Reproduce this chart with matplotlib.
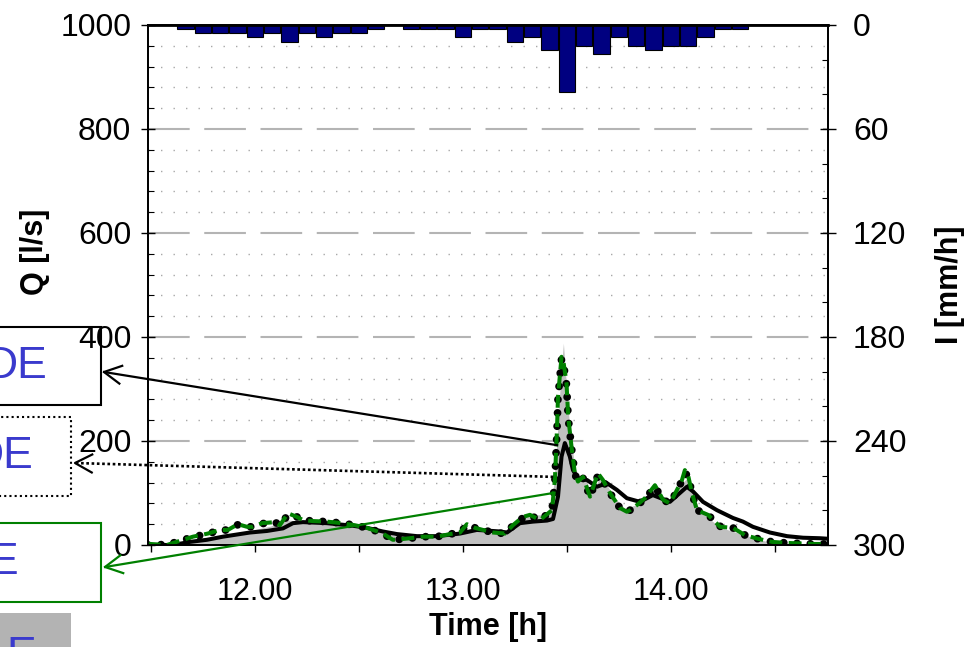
import numpy as np
import matplotlib
matplotlib.use('Agg')
import matplotlib.pyplot as plt
from matplotlib.patches import Rectangle
from matplotlib.lines import Line2D
from matplotlib.ticker import MultipleLocator, FixedLocator, FormatStrFormatter

plt.rcParams['font.family'] = ['Liberation Sans', 'DejaVu Sans']

# --- rainfall intensity, 5-minute blocks [mm/h]
rain_clock = ["11:40", "11:45", "11:50", "11:55", "12:00", "12:05", "12:10", "12:15",
              "12:20", "12:25", "12:30", "12:35", "12:40", "12:45", "12:50", "12:55",
              "13:00", "13:05", "13:10", "13:15", "13:20", "13:25", "13:30", "13:35",
              "13:40", "13:45", "13:50", "13:55", "14:00", "14:05", "14:10", "14:15",
              "14:20"]
rain_i = [2.4, 4.8, 4.8, 4.8, 7.2, 4.8, 9.6, 4.8, 7.2, 4.8, 4.8, 2.4, 0.0,
          2.4, 2.4, 2.4, 7.2, 2.4, 2.4, 9.6, 7.2, 14.4, 38.4, 12.0, 16.8,
          7.2, 12.0, 14.4, 12.0, 12.0, 7.2, 2.4, 2.4]

# --- measured discharge [l/s]
t_obs = [11.486, 11.591, 11.688, 11.784, 11.880, 11.976, 12.072, 12.159, 12.216, 12.361,
         12.481, 12.601, 12.673, 12.793, 12.889, 12.986, 13.034, 13.130, 13.202, 13.274,
         13.322, 13.394, 13.428, 13.452, 13.471, 13.483, 13.495, 13.514, 13.538, 13.562,
         13.587, 13.620, 13.659, 13.688, 13.731, 13.779, 13.837, 13.923, 13.971, 14.005,
         14.043, 14.082, 14.115, 14.139, 14.236, 14.332, 14.428, 14.514, 14.572, 14.755]
q_obs = [0, 0, 5, 12, 20, 28, 36, 48, 46, 44,
         38, 28, 18, 17, 18, 24, 30, 26, 28, 50,
         58, 58, 75, 200, 330, 388, 320, 220, 150, 125,
         128, 100, 130, 118, 90, 70, 78, 112, 88, 90,
         115, 130, 90, 65, 34, 22, 10, 2, 0, 0]

# --- simulated discharge, detailed models [l/s]
t_sim = [11.486, 11.495, 11.577, 11.639, 11.702, 11.774, 11.832, 11.870, 11.918, 11.962,
         11.990, 12.034, 12.096, 12.120, 12.159, 12.202, 12.231, 12.279, 12.346, 12.418,
         12.481, 12.538, 12.611, 12.663, 12.697, 12.745, 12.808, 12.875, 12.938, 12.986,
         13.019, 13.058, 13.096, 13.144, 13.202, 13.240, 13.288, 13.322, 13.370, 13.428,
         13.442, 13.452, 13.457, 13.474, 13.482, 13.498, 13.506, 13.522, 13.538, 13.553,
         13.577, 13.611, 13.649, 13.673, 13.707, 13.755, 13.788, 13.803, 13.837, 13.875,
         13.923, 13.962, 13.995, 14.029, 14.053, 14.067, 14.082, 14.101, 14.125, 14.178,
         14.236, 14.298, 14.356, 14.418, 14.486, 14.558, 14.620, 14.692, 14.750]
q_green = [0, 2, 0, 8, 16, 22, 29, 29, 40, 35,
           35, 42, 44, 38, 61, 54, 48, 46, 45, 42,
           38, 33, 23, 10, 11, 13, 16, 16, 21, 24,
           40, 33, 29, 24, 22, 38, 54, 58, 48, 67,
           125, 221, 285, 362, 356, 311, 247, 189, 138, 122,
           131, 93, 138, 125, 100, 71, 64, 67, 77, 90,
           115, 87, 80, 106, 125, 144, 135, 100, 67, 58,
           35, 33, 19, 12, 6, 4, 3, 2, 2]
q_dots = [0, 2, 0, 8, 15, 22, 28, 29, 39, 35,
          35, 41, 44, 38, 58, 54, 48, 46, 45, 42,
          38, 33, 23, 10, 11, 13, 16, 16, 21, 24,
          38, 33, 29, 24, 22, 37, 52, 57, 48, 66,
          123, 218, 282, 358, 352, 308, 245, 187, 137, 121,
          129, 93, 134, 124, 100, 71, 64, 67, 76, 89,
          112, 87, 80, 104, 124, 138, 133, 100, 67, 58,
          36, 33, 19, 12, 6, 4, 3, 2, 2]

# --- simulated discharge, simplified model [l/s]
t_simple = [11.486, 11.606, 11.688, 11.769, 11.846, 11.976, 12.058, 12.135, 12.183, 12.231,
            12.346, 12.471, 12.538, 12.615, 12.683, 12.779, 12.875, 12.986, 13.067, 13.178,
            13.212, 13.274, 13.337, 13.404, 13.433, 13.457, 13.474, 13.490, 13.514, 13.529,
            13.553, 13.596, 13.644, 13.692, 13.740, 13.788, 13.851, 13.913, 13.995, 14.043,
            14.077, 14.106, 14.154, 14.221, 14.298, 14.346, 14.394, 14.476, 14.558, 14.635,
            14.716, 14.755]
q_simple = [0, 0, 6, 10, 16, 24, 27, 32, 42, 44,
            42, 37, 33, 26, 21, 17, 17, 22, 29, 26,
            24, 42, 45, 47, 50, 93, 170, 196, 170, 144,
            128, 125, 112, 119, 106, 90, 83, 96, 83, 100,
            112, 103, 83, 67, 52, 45, 35, 24, 17, 14,
            13, 12]

W, H = 975, 647
fig = plt.figure(figsize=(W / 100, H / 100), dpi=100)
ax = fig.add_axes([148 / W, 1 - 545 / H, 680 / W, 520 / H])

ax.fill_between(t_obs, q_obs, 0, color='#c0c0c0', lw=0, zorder=1)
ax.plot(t_simple, q_simple, color='black', lw=2.9, zorder=3, solid_joinstyle='round')
ax.plot(t_sim, q_dots, color='black', lw=5.6, linestyle=(0, (0.01, 1.7)),
        dash_capstyle='round', zorder=4)
ax.plot(t_sim, q_green, color='#008000', lw=2.9, linestyle=(0, (3.2, 1.6)), zorder=5)

ax.set_xlim(11.486, 14.755)
ax.set_ylim(0, 1000)
ax.xaxis.set_major_locator(FixedLocator([12, 13, 14]))
ax.xaxis.set_minor_locator(MultipleLocator(0.5))
ax.xaxis.set_major_formatter(FormatStrFormatter('%.2f'))
ax.yaxis.set_major_locator(MultipleLocator(200))
ax.yaxis.set_minor_locator(MultipleLocator(40))

ax.tick_params(axis='x', which='both', direction='out', length=5, width=1,
               labelsize=22, pad=18)
ax.tick_params(axis='y', which='major', direction='inout', length=10, width=1,
               labelsize=23, pad=7)
ax.tick_params(axis='y', which='minor', direction='in', length=4, width=0.8)

ax.set_axisbelow(True)
ax.grid(axis='y', which='major', color='#b4b4b4', linestyle=(0, (20, 7)), lw=1.5)
ax.grid(axis='y', which='minor', color='#a8a8a8', linestyle=(0, (1, 8)), lw=1)

ax.set_xlabel('Time [h]', fontsize=22, fontweight='bold', labelpad=4)
ax.set_ylabel('Q [l/s]', fontsize=22, fontweight='bold')
ax.yaxis.set_label_coords(-0.144, 0.5635)

# rainfall hangs from the top on an inverted right axis
rain_t = [int(c[:2]) + int(c[3:]) / 60 for c in rain_clock]
ax2 = ax.twinx()
ax2.bar(rain_t, rain_i, width=5 / 60 * 0.94, color='#000080', edgecolor='black', lw=0.8)
ax2.set_ylim(300, 0)
ax2.yaxis.set_major_locator(MultipleLocator(60))
ax2.yaxis.set_minor_locator(MultipleLocator(20))
ax2.tick_params(axis='y', which='major', direction='inout', length=12, width=1,
                labelsize=23, pad=12)
ax2.tick_params(axis='y', which='minor', direction='in', length=4, width=0.8)
ax2.set_ylabel('I [mm/h]', fontsize=22, fontweight='bold')
ax2.yaxis.set_label_coords(1.157, 0.5)

for a in (ax, ax2):
    for s in a.spines.values():
        s.set_linewidth(1.3)
ax2.spines['top'].set_linewidth(2)


def px(x, y):
    return (x / W, 1 - y / H)


# legend boxes on the left margin
boxes = [
    # (right edge px, top px, bottom px, edge, linestyle, face)
    (101, 327, 405, 'black', '-', 'none'),
    (71, 417, 496, 'black', (0, (1, 1.5)), 'none'),
    (101, 523, 602, '#008000', '-', 'none'),
    (71, 613, 693, 'none', '-', '#b3b3b3'),
]
for right, top, bottom, ec, ls, fc in boxes:
    x0, y0 = px(-150, bottom)
    fig.add_artist(Rectangle((x0, y0), (right + 150) / W, (bottom - top) / H,
                             transform=fig.transFigure, facecolor=fc, edgecolor=ec,
                             lw=1.5, linestyle=ls, clip_on=False))

box_text = [("DE", 47, 367), ("DE", 33, 457), ("E", 18, 562), ("E", 36, 656)]
for s, xr, yc in box_text:
    fig.text(*px(xr, yc), s, ha='right', va='center', fontsize=32, color='#3a3acd')


def arrow(start, tip, color, ls):
    # start in data coordinates, tip in figure pixels (top-left origin)
    sx, sy = ax.transData.transform(start)
    tx, ty = tip[0], H - tip[1]
    u = np.array([sx - tx, sy - ty])
    u = u / np.hypot(*u)
    n = np.array([-u[1], u[0]])
    fig.add_artist(Line2D([sx / W, tx / W], [sy / H, ty / H], transform=fig.transFigure,
                          color=color, lw=1.6 if ls == '-' else 1.9, linestyle=ls))
    p1 = np.array([tx, ty]) + 17 * u + 9 * n
    p2 = np.array([tx, ty]) + 17 * u - 9 * n
    fig.add_artist(Line2D([p1[0] / W, tx / W, p2[0] / W], [p1[1] / H, ty / H, p2[1] / H],
                          transform=fig.transFigure, color=color, lw=1.6))


arrow((13.452, 192), (104, 372), 'black', '-')
arrow((13.434, 131), (75, 463), 'black', (0, (1, 1)))
arrow((13.434, 100), (105, 567), '#008000', '-')

fig.savefig('out.png', dpi=100)
